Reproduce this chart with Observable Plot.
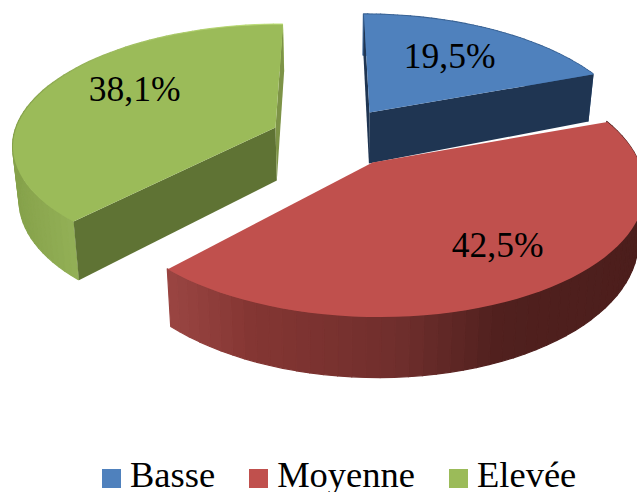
<!DOCTYPE html>
<html lang="fr">
<head>
<meta charset="utf-8">
<script src="https://cdn.jsdelivr.net/npm/d3@7"></script>
<script src="https://cdn.jsdelivr.net/npm/@observablehq/plot@0.6"></script>
<style>
  html, body { margin: 0; padding: 0; background: #fff; overflow: hidden; }
  #chart svg { display: block; }
  #legend {
    height: 35px; margin-top: -3px; padding-left: 102px; display: flex; gap: 34px; align-items: baseline;
    font-family: "Liberation Serif", serif; font-size: 36.5px; line-height: 35px; color: #000;
    white-space: nowrap;
  }
  #legend span.item { display: inline-flex; align-items: baseline; gap: 9px; }
  #legend i { display: inline-block; width: 19px; height: 19px; position: relative; top: 1px; }
</style>
</head>
<body>
<div id="chart"></div>
<div id="legend"></div>
<script>
// Share of each level, in percent
const categories = ["Basse", "Moyenne", "Elevée"];
const shares = [19.5, 42.5, 38.1];
const topColors = ["#4f81bd", "#c0504d", "#9bbb59"];
const faceColors = ["#1f3552", null, "#5f7334"];

// Exploded 3D pie: tilted disc of each wedge seen in perspective
const W = 637, H = 460, VX = 340, SHRINK = 0.98;
const views = [
  {ax: 369, ay: 112, d: 4.2, a: 510, b: 260, h: 51},
  {ax: 372, ay: 162, d: 5.56, a: 705, b: 267, h: 50},
  {ax: 275, ay: 127, d: 7.7, a: 896, b: 259, h: 53}
];
const labelOffsets = [[3, -2], [25, 13], [-2, -13]];

// Rim shading runs with the horizontal position on screen
const rimShades = [
  d3.scaleLinear().domain([360, 600]).range(["#3a6395", "#3a6395"]),
  d3.scaleLinear().domain([168, 250, 400, 500, 637])
    .range(["#9a4542", "#843633", "#6f2e2c", "#50201e", "#4c1e1c"]),
  d3.scaleLinear().domain([14, 72]).range(["#86a24b", "#93b056"])
];

const total = d3.sum(shares);
const cum = d3.cumsum(shares);
const wedges = categories.map((name, i) => ({
  name, i, value: shares[i],
  start: (i ? cum[i - 1] : 0) / total * 2 * Math.PI,
  end: cum[i] / total * 2 * Math.PI
}));

function project(i, r, t, lower) {
  const v = views[i];
  const X = r * Math.sin(t), Y = r * Math.cos(t), k = v.d / (v.d + Y);
  let x = VX + (v.ax - VX + v.b * X) * k;
  let y = v.ay - v.a * Y / (v.d + Y);
  if (lower) { y += v.h * k; x = VX + (x - VX) * SHRINK; }
  return {x, y};
}
const STEPS = 60;
const arcAngle = (w, n) => w.start + (w.end - w.start) * n / STEPS;
const topShape = w => [
  project(w.i, 0, 0, false),
  ...d3.range(0, STEPS + 1).map(n => project(w.i, 1, arcAngle(w, n), false))
];

// The rim is a run of small quads, each with its own shade
const rimQuads = w => d3.range(0, STEPS).flatMap(n => {
  const color = rimShades[w.i](project(w.i, 1, arcAngle(w, n + 0.5), false).x);
  return [n, n + 1].map(m => {
    const a = project(w.i, 1, arcAngle(w, m), false), b = project(w.i, 1, arcAngle(w, m), true);
    return {id: n, color, x1: a.x, y1: a.y, x2: b.x, y2: b.y};
  });
});
const cutFace = (w, t) => [
  project(w.i, 0, 0, false), project(w.i, 1, t, false),
  project(w.i, 1, t, true), project(w.i, 0, 0, true)
];

const wedgeMarks = w => {
  // The red wedge's cut faces point away from the viewer and are never seen
  const faces = faceColors[w.i] ? [cutFace(w, w.start), cutFace(w, w.end)] : [];
  return [
    Plot.area(rimQuads(w), {
      x1: "x1", y1: "y1", x2: "x2", y2: "y2", z: "id",
      fill: "color", stroke: "color", strokeWidth: 1.2
    }),
    faces.map((f, n) => Plot.line(f, {
      x: "x", y: "y", stroke: "none",
      fill: w.i === 2 && n === 1 ? "#7d9347" : faceColors[w.i]
    })),
    Plot.line(topShape(w), {x: "x", y: "y", fill: topColors[w.i], stroke: "none"})
  ];
};

// Percent labels sit along each wedge's middle angle
const labels = wedges.map(w => {
  const p = project(w.i, 0.6, (w.start + w.end) / 2, false);
  return {
    x: p.x + labelOffsets[w.i][0], y: p.y + labelOffsets[w.i][1],
    text: w.value.toFixed(1).replace(".", ",") + "%"
  };
});

const chart = Plot.plot({
  width: W, height: H, margin: 0,
  x: {domain: [0, W], range: [0, W], axis: null},
  y: {domain: [0, H], range: [0, H], axis: null},
  color: {type: "identity"},
  marks: [
    wedgeMarks(wedges[2]),
    wedgeMarks(wedges[0]),
    wedgeMarks(wedges[1]),
    Plot.text(labels, {
      x: "x", y: "y", text: "text", fill: "#000",
      fontFamily: "Liberation Serif", fontSize: 35.5
    })
  ]
});
document.getElementById("chart").append(chart);

const legend = d3.select("#legend");
categories.forEach((name, i) => {
  const item = legend.append("span").attr("class", "item");
  item.append("i").style("background", topColors[i]);
  item.append("span").text(name);
});
</script>
</body>
</html>
